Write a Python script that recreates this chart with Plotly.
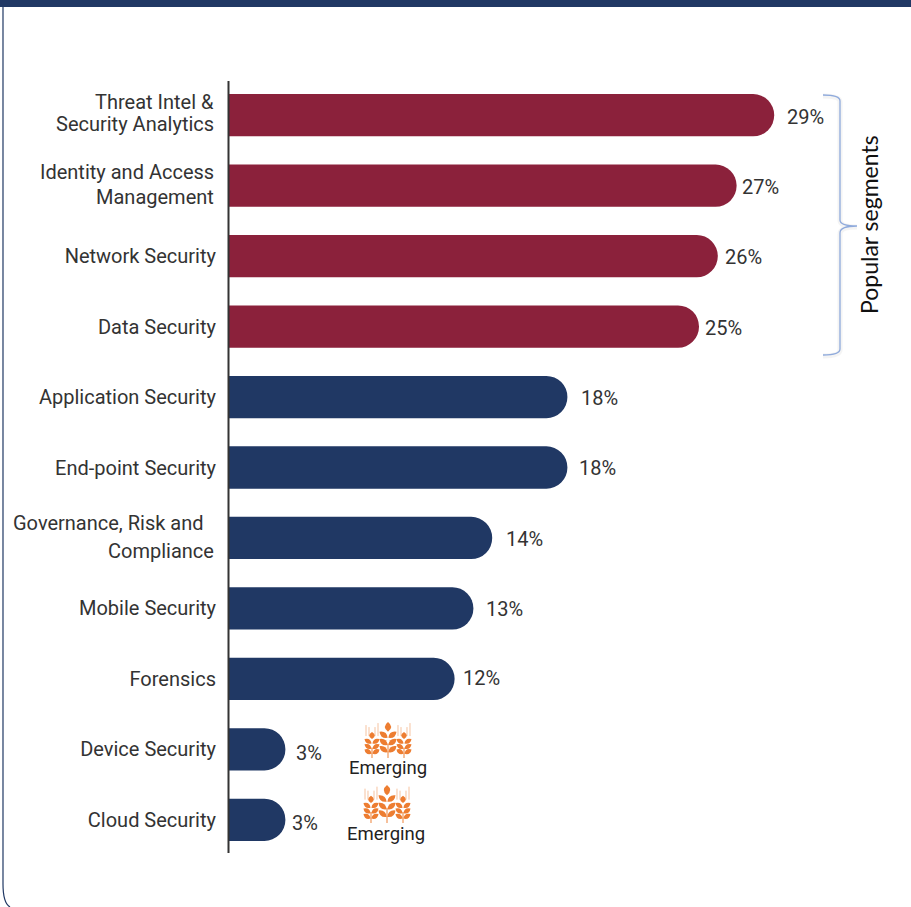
import plotly.graph_objects as go

W, H = 911, 907

categories = ["Threat Intel & Security Analytics", "Identity and Access Management",
              "Network Security", "Data Security", "Application Security", "End-point Security",
              "Governance, Risk and Compliance", "Mobile Security", "Forensics",
              "Device Security", "Cloud Security"]
values = [29, 27, 26, 25, 18, 18, 14, 13, 12, 3, 3]
bar_colors = ["#8B213B"] * 4 + ["#203864"] * 7
label_dx = [11, 3, 5, 4, 12, 10, 12, 11, 6, 9, 5]
label_dy = [2, 1.5, 1, 1.5, 1, 0.5, 1, 0.5, -1, 3.5, 3]

# Long names are set on two lines: (category, text, dx, dy) per line
wrapped_lines = [
    ("Threat Intel & Security Analytics", "Threat Intel &", 0, -13),
    ("Threat Intel & Security Analytics", "Security Analytics", 0, 9),
    ("Identity and Access Management", "Identity and Access", 0, -13.5),
    ("Identity and Access Management", "Management", 0, 11.5),
    ("Governance, Risk and Compliance", "Governance, Risk and", -10, -15),
    ("Governance, Risk and Compliance", "Compliance", 0, 13),
]
wrapped = {line[0] for line in wrapped_lines}
tick_labels = ["" if c in wrapped else c for c in categories]

LABEL_FONT = "Roboto"
TEXT = "#333333"
ORANGE = "#ED7D31"
BRACE = "#8FAADC"


def px(x, y):
    return f"{x / W:.5f} {1 - y / H:.5f}"


def path(points):
    """Build an SVG path in paper space from (command, x, y, ...) pixel tuples."""
    out = []
    for p in points:
        cmd, coords = p[0], p[1:]
        pairs = [px(coords[i], coords[i + 1]) for i in range(0, len(coords), 2)]
        out.append(cmd + " " + " ".join(pairs))
    return " ".join(out)


def shape(d, **kw):
    return dict(type="path", xref="paper", yref="paper", path=d, layer="above", **kw)


def kernel(x0, y0, x1, y1, bulge):
    """Pointed grain between two points, bulging on both sides."""
    mx, my = (x0 + x1) / 2, (y0 + y1) / 2
    nx, ny = -(y1 - y0), x1 - x0
    n = (nx * nx + ny * ny) ** 0.5
    nx, ny = nx / n * bulge, ny / n * bulge
    return path([("M", x0, y0), ("Q", mx + nx, my + ny, x1, y1),
                 ("Q", mx - nx, my - ny, x0, y0), ("Z",)])


def wheat(cx, top, height, half, awns):
    """One ear of wheat: stem, optional awns, tip grain and three rows of side grains."""
    s = []
    bottom = top + height
    s.append(shape(path([("M", cx, top + height * 0.6), ("L", cx, bottom)]),
                   line=dict(color="#F4B183", width=1.6)))
    for off, rise in awns:
        s.append(shape(path([("M", cx + off, top + 4), ("L", cx + off, top - rise)]),
                       line=dict(color="#F6C3A0", width=1)))
    s.append(shape(kernel(cx, top, cx, top + height * 0.27, half * 0.75),
                   fillcolor=ORANGE, line=dict(width=0)))
    for i in range(3):
        y = top + height * (0.44 + 0.2 * i)
        for side in (-1, 1):
            s.append(shape(kernel(cx + side * 0.4, y, cx + side * half, y - height * 0.17, half * 0.62),
                           fillcolor=ORANGE, line=dict(width=0)))
    return s


def emerging_icon(cx, top, height):
    side_awns = [(-6, 7), (-3, 5), (3, 5), (6, 9)]
    s = []
    s += wheat(cx - 16, top + height * 0.28, height * 0.72, 7.5, side_awns)
    s += wheat(cx, top, height, 8.5, [])
    s += wheat(cx + 16, top + height * 0.28, height * 0.72, 7.5, side_awns)
    return s


shapes = [
    # page frame: header band and rounded left edge
    dict(type="rect", xref="paper", yref="paper", x0=0, x1=1, y0=1 - 7 / H, y1=1,
         fillcolor="#203864", line=dict(width=0), layer="below"),
    shape(path([("M", 3, 7), ("L", 3, 884), ("Q", 3, 903, 10, 907)]),
          line=dict(color="#203864", width=1.2)),
    # soft halo under the bracket, then the bracket itself
    shape(path([("M", 823, 96), ("Q", 840, 96, 840, 102), ("L", 840, 220), ("Q", 840, 227, 857, 227),
                ("Q", 840, 227, 840, 234), ("L", 840, 350), ("Q", 840, 356, 823, 356)]),
          line=dict(color="rgba(120,120,120,0.08)", width=5)),
    shape(path([("M", 823, 95), ("Q", 840, 95, 840, 101), ("L", 840, 220), ("Q", 840, 226, 857, 226),
                ("Q", 840, 226, 840, 233), ("L", 840, 349), ("Q", 840, 355, 823, 355)]),
          line=dict(color=BRACE, width=1.3)),
]
shapes += emerging_icon(388, 722, 36)
shapes += emerging_icon(387, 785, 38)

annotations = [
    dict(x=v, y=c, xref="x", yref="y", text=f"{v}%", showarrow=False, xanchor="left",
         xshift=dx, yshift=-dy, font=dict(family=LABEL_FONT, size=20, color=TEXT))
    for c, v, dx, dy in zip(categories, values, label_dx, label_dy)
]
annotations += [
    dict(x=216 / W, y=c, xref="paper", yref="y", text=t, showarrow=False, xanchor="right",
         xshift=dx, yshift=-dy, font=dict(family=LABEL_FONT, size=20, color=TEXT))
    for c, t, dx, dy in wrapped_lines
]
annotations += [
    dict(x=869 / W, y=1 - 225 / H, xref="paper", yref="paper", text="Popular segments", textangle=-90,
         showarrow=False, xanchor="center", yanchor="middle",
         font=dict(family="Lato", size=23, color="#111111")),
    dict(x=388 / W, y=1 - 768 / H, xref="paper", yref="paper", text="Emerging", showarrow=False,
         xanchor="center", yanchor="middle", font=dict(family=LABEL_FONT, size=18.5, color="#222222")),
    dict(x=386 / W, y=1 - 834 / H, xref="paper", yref="paper", text="Emerging", showarrow=False,
         xanchor="center", yanchor="middle", font=dict(family=LABEL_FONT, size=18.5, color="#222222")),
]

fig = go.Figure(go.Bar(
    x=values, y=categories, orientation="h",
    marker=dict(color=bar_colors, cornerradius=21, line=dict(width=0)),
    width=0.6, hoverinfo="skip",
))
fig.update_layout(
    width=W, height=H, margin=dict(l=0, r=0, t=0, b=0), autosize=False,
    paper_bgcolor="white", plot_bgcolor="white", showlegend=False,
    shapes=shapes, annotations=annotations,
    xaxis=dict(domain=[229 / W, 1], range=[0, 682 / 18.8], visible=False, fixedrange=True),
    yaxis=dict(domain=[1 - 855 / H, 1 - 80 / H], autorange="reversed", showgrid=False,
               showline=False, ticks="", ticklabelstandoff=13,
               tickmode="array", tickvals=categories, ticktext=tick_labels,
               tickfont=dict(family=LABEL_FONT, size=20, color=TEXT), anchor="free", position=229 / W,
               zeroline=False),
)
# vertical baseline at the start of the bars
fig.add_shape(type="line", xref="paper", yref="paper", x0=228.5 / W, x1=228.5 / W,
              y0=1 - 81 / H, y1=1 - 853 / H, line=dict(color="#333333", width=2))
fig.write_html("out.html", config=dict(displayModeBar=False))
